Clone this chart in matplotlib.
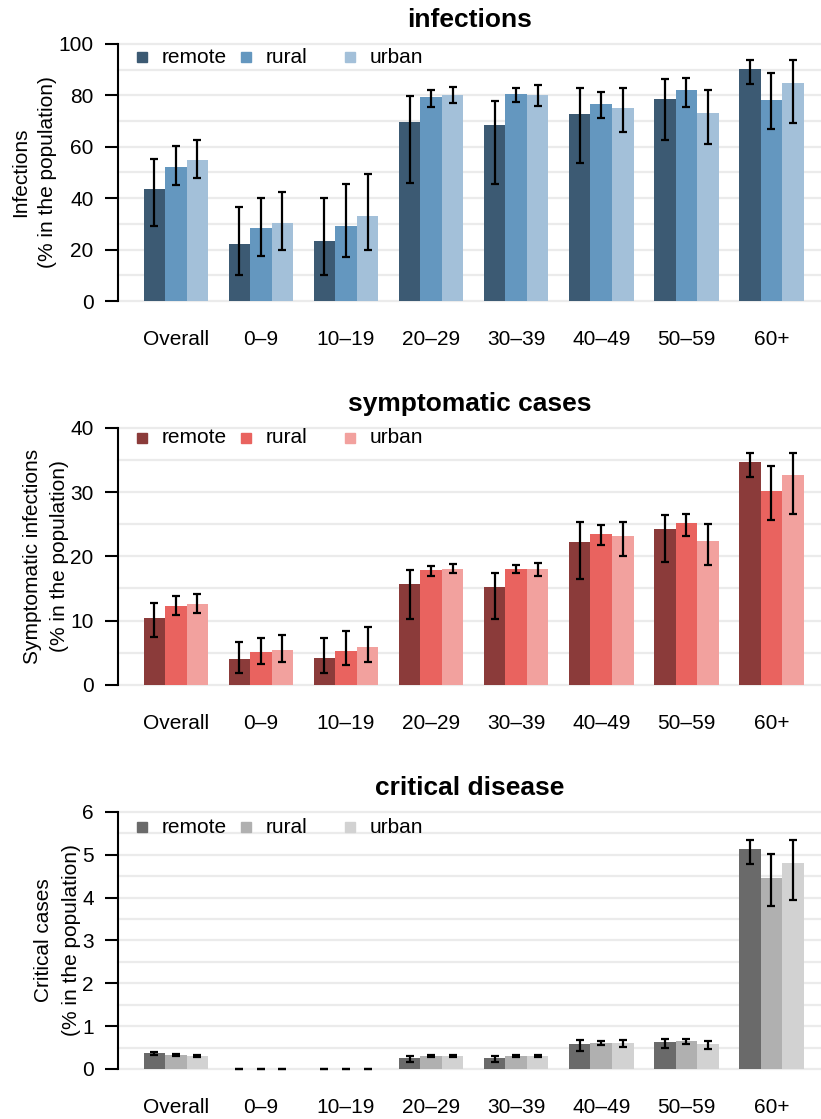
import numpy as np
import matplotlib.pyplot as plt

plt.rcParams['font.family'] = ['Liberation Sans', 'DejaVu Sans']

GROUPS = ["Overall", "0\u20139", "10\u201319", "20\u201329", "30\u201339", "40\u201349", "50\u201359", "60+"]
SERIES = ["remote", "rural", "urban"]

# infections (% of population): rows = remote, rural, urban
inf_mean = [[43.5, 22.1, 23.3, 69.8, 68.3, 72.8, 78.7, 90.3],
            [52.0, 28.3, 29.1, 79.5, 80.6, 76.7, 82.1, 78.3],
            [54.7, 30.3, 33.0, 80.2, 80.2, 75.1, 73.2, 85.0]]
inf_lo = [[29.0, 10.3, 10.1, 46.0, 45.5, 53.7, 62.6, 84.5],
          [45.3, 17.7, 17.3, 75.4, 77.3, 71.1, 75.5, 67.1],
          [47.7, 19.9, 19.9, 77.1, 75.8, 65.8, 60.9, 69.3]]
inf_hi = [[55.1, 36.7, 40.0, 79.7, 77.9, 82.7, 86.5, 93.9],
          [60.3, 40.0, 45.4, 82.1, 82.7, 81.5, 86.9, 88.6],
          [62.5, 42.4, 49.4, 83.4, 83.9, 82.8, 81.9, 93.9]]

# symptomatic cases
sym_mean = [[10.4, 4.05, 4.2, 15.7, 15.3, 22.3, 24.2, 34.6],
            [12.3, 5.1, 5.3, 17.9, 18.1, 23.5, 25.2, 30.1],
            [12.6, 5.45, 5.9, 18.1, 18.1, 23.1, 22.4, 32.6]]
sym_lo = [[7.4, 1.9, 1.8, 10.3, 10.2, 16.5, 19.1, 32.4],
          [10.9, 3.2, 3.1, 16.9, 17.35, 21.8, 23.2, 25.7],
          [11.2, 3.6, 3.6, 17.35, 17.0, 20.1, 18.6, 26.6]]
sym_hi = [[12.8, 6.65, 7.3, 17.9, 17.45, 25.35, 26.5, 36.05],
          [13.8, 7.3, 8.3, 18.5, 18.6, 24.9, 26.65, 34.0],
          [14.1, 7.7, 9.0, 18.8, 18.9, 25.35, 25.1, 36.05]]

# critical disease
crit_mean = [[0.37, 0.0, 0.0, 0.25, 0.25, 0.58, 0.62, 5.13],
             [0.33, 0.0, 0.0, 0.30, 0.30, 0.60, 0.65, 4.46],
             [0.30, 0.0, 0.0, 0.30, 0.30, 0.60, 0.58, 4.80]]
crit_lo = [[0.33, 0.0, 0.0, 0.17, 0.17, 0.43, 0.49, 4.79],
           [0.31, 0.0, 0.0, 0.28, 0.28, 0.55, 0.58, 3.81],
           [0.28, 0.0, 0.0, 0.28, 0.28, 0.51, 0.47, 3.94]]
crit_hi = [[0.40, 0.0, 0.0, 0.30, 0.30, 0.67, 0.70, 5.34],
           [0.35, 0.0, 0.0, 0.32, 0.32, 0.65, 0.70, 5.03],
           [0.32, 0.0, 0.0, 0.32, 0.32, 0.67, 0.66, 5.34]]

panels = [
    dict(title="infections", ylabel="Infections\n(% in the population)",
         mean=inf_mean, lo=inf_lo, hi=inf_hi, ymax=100, major=20, minor=10,
         colors=["#3c5a73", "#6497bf", "#a3c0d9"], bottom=0.731, leg_y=0.948),
    dict(title="symptomatic cases", ylabel="Symptomatic infections\n(% in the population)",
         mean=sym_mean, lo=sym_lo, hi=sym_hi, ymax=40, major=10, minor=5,
         colors=["#8b3b3a", "#e9635f", "#f2a19e"], bottom=0.388, leg_y=0.961),
    dict(title="critical disease", ylabel="Critical cases\n(% in the population)",
         mean=crit_mean, lo=crit_lo, hi=crit_hi, ymax=6, major=1, minor=0.5,
         colors=["#6a6a6a", "#b0b0b0", "#d2d2d2"], bottom=0.0447, leg_y=0.941),
]

fig = plt.figure(figsize=(8.21, 11.19), dpi=100)
x = np.arange(len(GROUPS))
w = 0.253

for p in panels:
    ax = fig.add_axes([0.1437, p["bottom"], 0.856, 0.2297])
    for yg in np.arange(0, p["ymax"] + 1e-9, p["minor"]):
        ax.axhline(yg, color="#ebebeb", lw=1.6, zorder=0, clip_on=False)
    for i, s in enumerate(SERIES):
        m = np.array(p["mean"][i])
        lo = np.array(p["lo"][i])
        hi = np.array(p["hi"][i])
        xs = x + (i - 1) * w
        ax.bar(xs, m, width=w, color=p["colors"][i], zorder=2)
        ax.errorbar(xs, m, yerr=[m - lo, hi - m], fmt="none", ecolor="black",
                    elinewidth=1.6, capsize=2.6, capthick=1.6, zorder=3, clip_on=False)
        # legend entry
        lx = 0.034 + 0.148 * i
        ax.plot([lx], [p["leg_y"]], marker="s", ms=7.2, color=p["colors"][i],
                transform=ax.transAxes, clip_on=False)
        ax.text(lx + 0.0285, p["leg_y"], s, transform=ax.transAxes, fontsize=15,
                va="center", ha="left")

    ax.set_xlim(-0.68, 7.58)
    ax.set_ylim(0, p["ymax"])
    ax.set_yticks(np.arange(0, p["ymax"] + 1e-9, p["major"]))
    ax.set_yticklabels([f"{v:g}" for v in np.arange(0, p["ymax"] + 1e-9, p["major"])])
    ax.set_xticks(x)
    ax.set_xticklabels(GROUPS)
    ax.tick_params(axis="x", length=0, pad=21, labelsize=15)
    ax.tick_params(axis="y", length=9.5, width=1.5, pad=8, labelsize=15)
    for side in ["top", "right", "bottom"]:
        ax.spines[side].set_visible(False)
    ax.spines["left"].set_linewidth(1.5)
    ax.set_ylabel(p["ylabel"], fontsize=15, labelpad=1, linespacing=1.55)
    ax.set_title(p["title"], fontsize=19, fontweight="bold", pad=12)

fig.savefig("out.png", dpi=100)
